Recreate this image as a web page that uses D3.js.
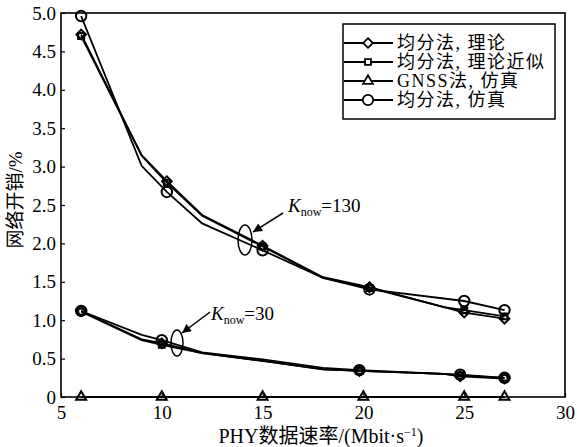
<!DOCTYPE html>
<html>
<head>
<meta charset="utf-8">
<script src="https://cdn.jsdelivr.net/npm/d3@7"></script>
<style>
  body { margin: 0; background: #fff; }
  text { font-family: "Liberation Serif", "Noto Sans CJK SC", serif; fill: #000; }
</style>
</head>
<body>
<svg id="chart" width="577" height="447"></svg>
<script>
// K_now = 130
var rates130 = [6, 9, 10.25, 12, 15, 18, 20.3, 24, 25, 27];
var theory130 = [4.72, 3.15, 2.81, 2.37, 1.97, 1.56, 1.43, 1.17, 1.10, 1.02];
var approx130 = [4.70, 3.14, 2.79, 2.36, 1.96, 1.55, 1.42, 1.17, 1.13, 1.05];
var simRates130 = [6, 9, 10.25, 12, 15, 18, 20.3, 25, 27];
var sim130 = [4.96, 3.01, 2.67, 2.26, 1.91, 1.55, 1.40, 1.25, 1.13];
var markRates130 = [6, 10.25, 15, 20.3, 25, 27];

// K_now = 30
var rates30 = [6, 9, 10, 12, 15, 18, 19.8, 24, 24.8, 27];
var theory30 = [1.12, 0.75, 0.70, 0.57, 0.47, 0.36, 0.34, 0.30, 0.27, 0.24];
var approx30 = [1.11, 0.74, 0.68, 0.57, 0.47, 0.36, 0.34, 0.30, 0.28, 0.25];
var simRates30 = [6, 9, 10, 12, 15, 18, 19.8, 24.8, 27];
var sim30 = [1.12, 0.81, 0.74, 0.58, 0.49, 0.38, 0.35, 0.29, 0.25];
var markRates30 = [6, 10, 14.8, 19.8, 24.8, 27];

// GNSS
var gnssRates = [6, 10, 15, 20, 25, 27];
var gnss = [0, 0, 0, 0, 0, 0];

var xTicks = [5, 10, 15, 20, 25, 30];
var yTicks = [0, 0.5, 1.0, 1.5, 2.0, 2.5, 3.0, 3.5, 4.0, 4.5, 5.0];
var legendNames = ["均分法, 理论", "均分法, 理论近似", "GNSS法, 仿真", "均分法, 仿真"];
var legendSymbols = ["diamond", "square", "triangle", "circle"];

// plot box ("top" is taken by window.top)
var plotL = 61, plotR = 565, plotT = 13, plotB = 397;

var svg = d3.select("#chart");

var x = d3.scaleLinear().domain([5, 30]).range([plotL, plotR]);
var y = d3.scaleLinear().domain([0, 5]).range([plotB, plotT]);

// axes
svg.append("g")
    .attr("transform", "translate(0," + plotB + ")")
    .call(d3.axisBottom(x).tickValues(xTicks).tickSize(-4).tickPadding(9).tickFormat(d3.format("d")))
    .call(function(g) { g.select(".domain").remove(); })
    .selectAll("text").style("font-size", "19px").attr("font-family", "Liberation Serif");

svg.append("g")
    .attr("transform", "translate(" + plotL + ",0)")
    .call(d3.axisLeft(y).tickValues(yTicks).tickSize(-4).tickPadding(5)
        .tickFormat(function(d) { return d == 0 ? "0" : d3.format(".1f")(d); }))
    .call(function(g) { g.select(".domain").remove(); })
    .selectAll("text").style("font-size", "19px").attr("font-family", "Liberation Serif");

svg.selectAll(".tick line").attr("stroke", "#000").attr("stroke-width", 1.2);

// frame
svg.append("rect")
    .attr("x", plotL).attr("y", plotT)
    .attr("width", plotR - plotL).attr("height", plotB - plotT)
    .attr("fill", "none").attr("stroke", "#000").attr("stroke-width", 1.6);

var line = d3.line()
    .x(function(d) { return x(d[0]); })
    .y(function(d) { return y(d[1]); });

var symbols = {
    diamond: d3.symbol().type(d3.symbolDiamond2).size(60),
    square: d3.symbol().type(d3.symbolSquare2).size(45),
    triangle: d3.symbol().type(d3.symbolTriangle2).size(70),
    circle: d3.symbol().type(d3.symbolCircle).size(85)
};

function drawSeries(xs, ys, marks, sym) {
    var pts = xs.map(function(v, i) { return [v, ys[i]]; });
    svg.append("path")
        .datum(pts)
        .attr("d", line)
        .attr("fill", "none")
        .attr("stroke", "#000")
        .attr("stroke-width", 1.8);
    svg.append("g").selectAll("path")
        .data(pts.filter(function(p) { return marks.indexOf(p[0]) >= 0; }))
        .join("path")
        .attr("transform", function(d) { return "translate(" + x(d[0]) + "," + y(d[1]) + ")"; })
        .attr("d", symbols[sym])
        .attr("fill", "none")
        .attr("stroke", "#000")
        .attr("stroke-width", 2);
}

drawSeries(rates130, theory130, markRates130, "diamond");
drawSeries(rates130, approx130, markRates130, "square");
drawSeries(simRates130, sim130, markRates130, "circle");
drawSeries(rates30, theory30, markRates30, "diamond");
drawSeries(rates30, approx30, markRates30, "square");
drawSeries(simRates30, sim30, markRates30, "circle");
drawSeries(gnssRates, gnss, gnssRates, "triangle");

// annotations
svg.append("defs").append("marker")
    .attr("id", "arr")
    .attr("viewBox", "0 0 10 10")
    .attr("refX", 10).attr("refY", 5)
    .attr("markerWidth", 14).attr("markerHeight", 9)
    .attr("markerUnits", "userSpaceOnUse")
    .attr("orient", "auto")
    .append("path").attr("d", "M0,0L10,5L0,10Z").attr("fill", "#000");

function annotate(ex, ey, rx, ry, x1, y1, x2, y2, tx, ty, label) {
    svg.append("ellipse")
        .attr("cx", ex).attr("cy", ey).attr("rx", rx).attr("ry", ry)
        .attr("fill", "none").attr("stroke", "#000").attr("stroke-width", 1.5);
    svg.append("line")
        .attr("x1", x1).attr("y1", y1).attr("x2", x2).attr("y2", y2)
        .attr("stroke", "#000").attr("stroke-width", 1.5)
        .attr("marker-end", "url(#arr)");
    var t = svg.append("text").attr("x", tx).attr("y", ty).style("font-size", "19px");
    t.append("tspan").text("K").style("font-style", "italic");
    t.append("tspan").text("now").style("font-size", "12px").attr("dy", 4);
    t.append("tspan").text("=" + label).attr("dy", -4);
}

annotate(245, 240, 7, 15, 283, 213, 253, 232, 288, 212, "130");
annotate(177, 343, 6, 13, 210, 312, 182, 333, 211, 320, "30");

// legend
var lg = svg.append("g");
lg.append("rect")
    .attr("x", 343).attr("y", 24).attr("width", 212).attr("height", 95)
    .attr("fill", "#fff").attr("stroke", "#000").attr("stroke-width", 1.5);
legendNames.forEach(function(name, i) {
    var ry = 43 + i * 19;
    lg.append("line")
        .attr("x1", 344).attr("x2", 393).attr("y1", ry).attr("y2", ry)
        .attr("stroke", "#000").attr("stroke-width", 1.8);
    lg.append("path")
        .attr("transform", "translate(368," + ry + ")")
        .attr("d", symbols[legendSymbols[i]])
        .attr("fill", "#fff").attr("stroke", "#000").attr("stroke-width", 1.8);
    lg.append("text")
        .attr("x", 397).attr("y", ry + 6)
        .style("font-size", "18px")
        .style("letter-spacing", "1.5px")
        .text(name);
});

// axis titles
svg.append("text")
    .attr("x", 321).attr("y", 443)
    .attr("text-anchor", "middle")
    .style("font-size", "20px")
    .html("PHY数据速率/(Mbit·s<tspan dy='-7' font-size='12px'>−1</tspan><tspan dy='7'>)</tspan>");

svg.append("text")
    .attr("transform", "translate(22,200) rotate(-90)")
    .attr("text-anchor", "middle")
    .style("font-size", "19px")
    .text("网络开销/%");
</script>
</body>
</html>
